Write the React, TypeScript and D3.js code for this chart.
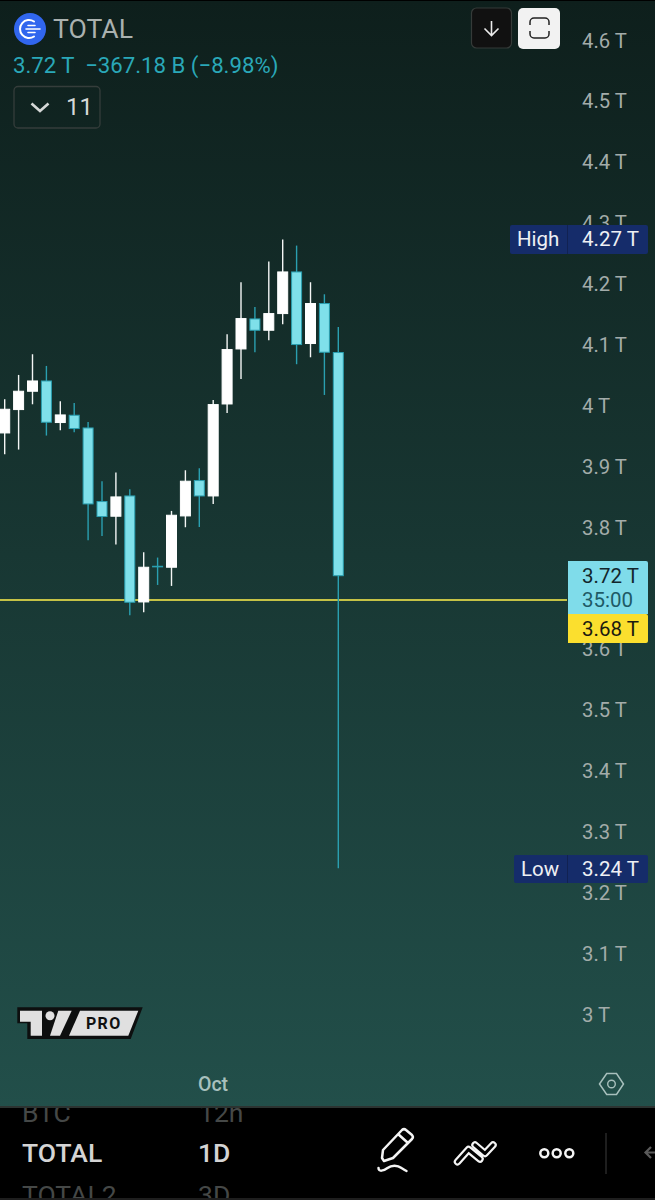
import React from "react";
import * as d3 from "d3";

const W = 655;
const H = 1200;
const FONT = "Roboto, sans-serif";

const opens = [3.9545, 3.9929, 4.023, 4.0399, 3.9716, 3.9836, 3.9627, 3.8418, 3.8177, 3.851, 3.6769, 3.7355, 3.7339, 3.8182, 3.8763, 3.851, 4.0021, 4.0925, 4.1418, 4.1232, 4.1506, 4.219, 4.1014, 4.1671, 4.0866];
const closes = [3.9934, 4.023, 4.0399, 3.9721, 3.9841, 3.9617, 3.8379, 3.8172, 3.8494, 3.6764, 3.7339, 3.7347, 3.8193, 3.8752, 3.851, 4.0011, 4.0915, 4.1424, 4.1232, 4.1506, 4.219, 4.0997, 4.1671, 4.0871, 3.72];
const highs = [4.0099, 4.0498, 4.0838, 4.0646, 4.0066, 4.0038, 3.9726, 3.8752, 3.8894, 3.862, 3.7585, 3.7498, 3.8264, 3.8932, 3.8965, 4.0087, 4.1166, 4.2021, 4.1615, 4.2361, 4.2722, 4.2623, 4.2021, 4.1823, 4.1286];
const lows = [3.9195, 3.9272, 4.0016, 3.9502, 3.9589, 3.9556, 3.7782, 3.7853, 3.7712, 3.655, 3.66, 3.7048, 3.7032, 3.7996, 3.8001, 3.8379, 3.9874, 4.0432, 4.0871, 4.1068, 4.1331, 4.0674, 4.0788, 4.0169, 3.2394];
const axisTicks = [4.6, 4.5, 4.4, 4.3, 4.2, 4.1, 4, 3.9, 3.8, 3.6, 3.5, 3.4, 3.3, 3.2, 3.1, 3];

const y = d3.scaleLinear().domain([3, 4.6]).range([1014, 40]);
const x = d3.scaleLinear().domain([0, 24]).range([4.7, 338.3]);

const CYAN_FILL = "#7fe0ea";
const CYAN_EDGE = "#2a9fb0";
const AXIS_GREY = "#a3acaa";

export default function App() {
  const bodyW = 10;
  return (
    <svg
      width={W}
      height={H}
      viewBox={`0 0 ${W} ${H}`}
      style={{ position: "absolute", left: 0, top: 0, display: "block", fontFamily: FONT }}
    >
      <defs>
        <linearGradient id="bg" x1="0" y1="0" x2="0" y2="1">
          <stop offset="0" stopColor="#0e1f1c" />
          <stop offset="1" stopColor="#224f4a" />
        </linearGradient>
        <clipPath id="pick">
          <rect x="0" y="1108" width={W} height="90" />
        </clipPath>
      </defs>
      <rect width={W} height={H} fill="#000" />
      <rect x="0" y="1" width={W} height="1106" fill="url(#bg)" />
      <rect x="0" y="1106" width={W} height="2" fill="#2c3331" />

      {/* axis */}
      {axisTicks.map((t) => (
        <text key={t} x={582} y={y(t) + 7.5} fontSize="20.3" fill={AXIS_GREY}>
          {`${t} T`}
        </text>
      ))}

      {/* last price line */}
      <line x1="0" x2="567" y1={y(3.68)} y2={y(3.68)} stroke="#fff04d" strokeWidth="1.6" />

      {/* candles */}
      {opens.map((o, i) => {
        const c = closes[i];
        const up = c >= o;
        const top = y(Math.max(o, c));
        const bot = y(Math.min(o, c));
        const cx = x(i);
        return (
          <g key={i}>
            <line
              x1={cx}
              x2={cx}
              y1={y(highs[i])}
              y2={y(lows[i])}
              stroke={up ? "#f4f6f5" : CYAN_EDGE}
              strokeWidth="1.4"
            />
            <rect
              x={cx - bodyW / 2}
              y={top}
              width={bodyW}
              height={Math.max(bot - top, 0.6)}
              fill={up ? "#ffffff" : CYAN_FILL}
              stroke={up ? "#ffffff" : CYAN_EDGE}
              strokeWidth="1"
            />
          </g>
        );
      })}

      {/* header */}
      <circle cx="30" cy="29" r="16" fill="#3166ee" />
      <path d="M34 21.5a9 9 0 1 0 0 15" fill="none" stroke="#fff" strokeWidth="2" strokeLinecap="round" />
      <path d="M28 25.5h7M26 29h14M28 32.5h7" fill="none" stroke="#fff" strokeWidth="1.6" strokeLinecap="round" />
      <text x="53" y="38" fontSize="26.6" fill="#aab1af">TOTAL</text>
      <text x="13" y="73" fontSize="22.2" fill="#2aa8b8" xmlSpace="preserve">3.72 T  −367.18 B (−8.98%)</text>
      <rect x="14" y="86.5" width="86" height="41.5" rx="4" fill="none" stroke="#353d3b" strokeWidth="1.3" />
      <path d="M31.5 103.5l8.5 7.5 8.5-7.5" fill="none" stroke="#d5d8d7" strokeWidth="2.6" />
      <text x="66" y="115" fontSize="24" fill="#d5d8d7">11</text>

      {/* top buttons */}
      <rect x="471.5" y="8" width="40" height="40" rx="5" fill="#111111" stroke="#353b39" strokeWidth="1.2" />
      <path d="M491.5 21v14M484.5 28.5l7 7 7-7" fill="none" stroke="#ececec" strokeWidth="1.6" />
      <rect x="518" y="8" width="42" height="41" rx="5" fill="#f2f2f2" />
      <path d="M530 25v-3a4 4 0 0 1 4-4h11a4 4 0 0 1 4 4v3M530 31v3a4 4 0 0 0 4 4h11a4 4 0 0 0 4-4v-3" fill="none" stroke="#222" strokeWidth="1.5" />

      {/* high label */}
      <rect x="510" y="225" width="138" height="29" rx="2" fill="#152c6a" />
      <rect x="567" y="225" width="1" height="29" fill="#112252" />
      <text x="517" y="246" fontSize="20.5" fill="#eef0f4">High</text>
      <text x="582" y="246" fontSize="20.5" fill="#eef0f4">4.27 T</text>

      {/* low label */}
      <rect x="514" y="855" width="134" height="28" rx="2" fill="#152c6a" />
      <rect x="567" y="855" width="1" height="28" fill="#112252" />
      <text x="521" y="876" fontSize="20.5" fill="#eef0f4">Low</text>
      <text x="582" y="876" fontSize="20.5" fill="#eef0f4">3.24 T</text>

      {/* price labels */}
      <path d="M568 561h78a2 2 0 0 1 2 2v51h-80z" fill="#7fdcea" />
      <text x="582" y="583" fontSize="20.5" fill="#12262c">3.72 T</text>
      <text x="582" y="607" fontSize="20.5" fill="#1e5a66">35:00</text>
      <path d="M568 614h78a2 2 0 0 1 2 2v25a2 2 0 0 1-2 2h-78z" fill="#fbdf2e" />
      <text x="582" y="636" fontSize="20.5" fill="#1a1a10">3.68 T</text>

      {/* TV PRO logo */}
      <path d="M17.3 1007.3H142.7L130.7 1039H27.3V1023.3H17.3Z" fill="#0d0f0f" />
      <path d="M20 1010.7H42V1035.7H30.7V1021.7H20Z" fill="#e0e0e0" />
      <circle cx="50" cy="1015.7" r="4.5" fill="#e0e0e0" />
      <path d="M58.3 1010.7H71.7L60 1035.7H50Z" fill="#e0e0e0" />
      <path d="M80 1010.7H138.3L128.3 1035.7H69Z" fill="#e0e0e0" />
      <text x="86" y="1028.5" fontSize="16" fontWeight="700" fill="#111" letterSpacing="1.3">PRO</text>

      {/* time axis */}
      <text x="198" y="1090.5" fontSize="19.5" fontWeight="500" fill="#a8c0bd">Oct</text>
      <path d="M599.5 1084l7.2-10.5h9.8l7 10.500-7 10.5h-9.8z" fill="none" stroke="#a8c0bd" strokeWidth="1.5" />
      <circle cx="611.5" cy="1084" r="3.8" fill="none" stroke="#a8c0bd" strokeWidth="1.4" />

      {/* toolbar */}
      <g clipPath="url(#pick)">
        <text x="22" y="1122" fontSize="26.5" fontWeight="400" fill="#454847">BTC</text>
        <text x="199" y="1122" fontSize="26.5" fontWeight="400" fill="#454847">12h</text>
        <text x="22" y="1162" fontSize="26.5" fontWeight="500" fill="#d4d4d4">TOTAL</text>
        <text x="198" y="1162" fontSize="26.5" fontWeight="500" fill="#d4d4d4">1D</text>
        <text x="22" y="1204" fontSize="26.5" fontWeight="400" fill="#454847">TOTAL2</text>
        <text x="198" y="1204" fontSize="26.5" fontWeight="400" fill="#454847">3D</text>
      </g>
      <rect y="1198" width={W} height="2" fill="#1e1e1e" />
      <path d="M383 1150l19-20a3 3 0 0 1 4 0l6 5a3 3 0 0 1 0 4l-19 19-9 3-2-3zM398 1134l10 9" fill="none" stroke="#f4f4f4" strokeWidth="2.5" strokeLinejoin="round" />
      <path d="M378.5 1168c0 4 5 3 9 0 4-3 10-3 14 0 3 2 5 3 5 3" fill="none" stroke="#f4f4f4" strokeWidth="2.5" strokeLinecap="round" />
      <path d="M457.5 1161.7L468.5 1149.5L480 1159M475 1145L485 1153.5L493 1145" fill="none" stroke="#f4f4f4" strokeWidth="7.5" strokeLinecap="round" strokeLinejoin="round" />
      <path d="M457.5 1161.7L468.5 1149.5L480 1159M475 1145L485 1153.5L493 1145" fill="none" stroke="#000" strokeWidth="3.2" strokeLinecap="round" strokeLinejoin="round" />
      <circle cx="544.3" cy="1153.3" r="4" fill="none" stroke="#f4f4f4" strokeWidth="2.5" />
      <circle cx="556.7" cy="1153.3" r="4" fill="none" stroke="#f4f4f4" strokeWidth="2.5" />
      <circle cx="569.3" cy="1153.3" r="4" fill="none" stroke="#f4f4f4" strokeWidth="2.5" />
      <line x1="606" x2="606" y1="1133" y2="1174" stroke="#333" strokeWidth="1.2" />
      <path d="M655 1152.5h-9M651 1147l-5.500 5.500 5.500 5.500" fill="none" stroke="#5a5a5a" strokeWidth="2.2" />
    </svg>
  );
}
